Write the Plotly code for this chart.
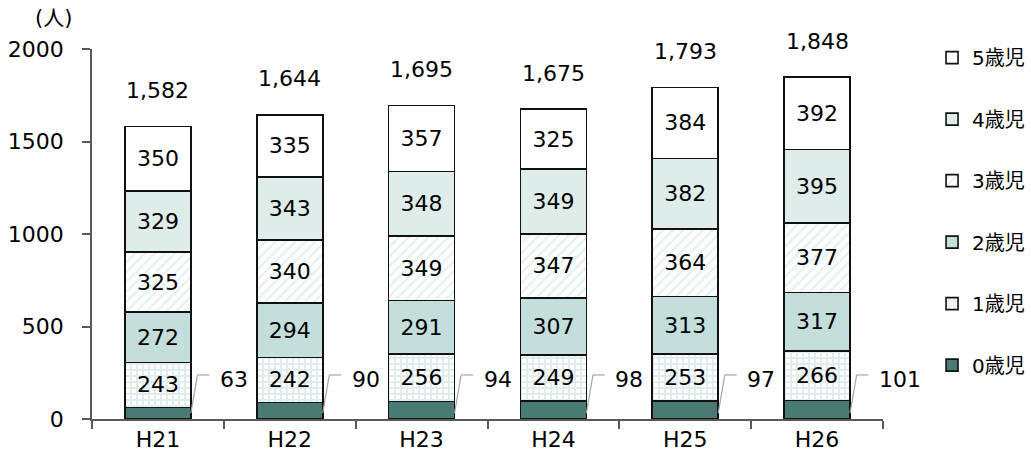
import plotly.graph_objects as go

years = ["H21", "H22", "H23", "H24", "H25", "H26"]
age0 = [63, 90, 94, 98, 97, 101]
age1 = [243, 242, 256, 249, 253, 266]
age2 = [272, 294, 291, 307, 313, 317]
age3 = [325, 340, 349, 347, 364, 377]
age4 = [329, 343, 348, 349, 382, 395]
age5 = [350, 335, 357, 325, 384, 392]
series_names = ["0歳児", "1歳児", "2歳児", "3歳児", "4歳児", "5歳児"]
y_ticks = [0, 500, 1000, 1500, 2000]

FONT = "Verdana, DejaVu Sans, Noto Sans CJK JP, sans-serif"
series = [age0, age1, age2, age3, age4, age5]
totals = [sum(v) for v in zip(*series)]

styles = [
    dict(color="#497a74"),
    dict(color="white", pattern=dict(shape="+", fgcolor="#c3dcda", bgcolor="white", size=6, solidity=0.6, fillmode="overlay")),
    dict(color="#c4dedc"),
    dict(color="white", pattern=dict(shape="/", fgcolor="#cfe4e2", bgcolor="white", size=7, solidity=0.35, fillmode="overlay")),
    dict(color="#deecea"),
    dict(color="white"),
]

fig = go.Figure()
n = len(series_names)
for k, (name, vals, st) in enumerate(zip(series_names, series, styles)):
    fig.add_trace(go.Bar(
        x=years, y=vals, name=name, legendgroup=name, legendrank=n - k,
        marker=dict(line=dict(color="#111111", width=1.6), **st),
        text=[""] * len(vals) if k == 0 else [str(v) for v in vals],
        textposition="inside", insidetextanchor="middle", textangle=0,
        textfont=dict(family=FONT, size=22, color="black"),
        width=0.5, hoverinfo="skip",
    ))

# totals above bars
for i, t in enumerate(totals):
    fig.add_annotation(x=years[i], y=t, text=f"{t:,}", showarrow=False,
                       yshift=36, font=dict(family=FONT, size=22, color="black"))

# 0歳児 callouts with leader lines
for i, v in enumerate(age0):
    fig.add_shape(type="line", xref="x", yref="y", x0=i + 0.25, y0=32, x1=i + 0.30, y1=238,
                  line=dict(color="#a6a6a6", width=1.2))
    fig.add_shape(type="line", xref="x", yref="y", x0=i + 0.30, y0=238, x1=i + 0.39, y1=238,
                  line=dict(color="#a6a6a6", width=1.2))
    fig.add_annotation(x=i + 0.455, y=216, text=str(v), showarrow=False, xanchor="left",
                       font=dict(family=FONT, size=22, color="black"))

fig.add_annotation(xref="paper", yref="paper", x=-0.049, y=1.084, xanchor="center", yanchor="middle",
                   text="(人)", showarrow=False,
                   font=dict(family=FONT, size=21, color="black"))

fig.update_layout(
    barmode="stack",
    width=1031, height=459,
    margin=dict(l=92, r=148, t=49, b=40, autoexpand=False),
    paper_bgcolor="white", plot_bgcolor="white",
    font=dict(family=FONT, size=22, color="black"),
    showlegend=True,
    legend=dict(x=1.062, xanchor="left", y=0.917, yanchor="top", yref="container",
                traceorder="grouped", tracegroupgap=32.5, maxheight=1,
                font=dict(family=FONT, size=20, color="black"),
                itemwidth=30, bgcolor="rgba(0,0,0,0)"),
    bargap=0.5,
)
fig.update_xaxes(showline=True, linecolor="#595959", linewidth=1.5,
                 ticks="outside", tickson="boundaries", ticklen=8, tickcolor="#595959", tickwidth=1.5,
                 tickfont=dict(family=FONT, size=22, color="black"),
                 showgrid=False, range=[-0.5, 5.5], automargin=False)
fig.update_yaxes(showline=True, linecolor="#595959", linewidth=1.5,
                 ticks="outside", ticklen=8, tickcolor="#595959", tickwidth=1.5,
                 tickvals=y_ticks, ticktext=[str(v) for v in y_ticks],
                 tickfont=dict(family=FONT, size=22, color="black"),
                 ticklabelstandoff=14,
                 range=[0, 2000], showgrid=False, zeroline=False, automargin=False)

fig.write_html("out.html", config={"displayModeBar": False},
               post_script="document.body.style.margin='0';document.body.style.overflow='hidden';")
